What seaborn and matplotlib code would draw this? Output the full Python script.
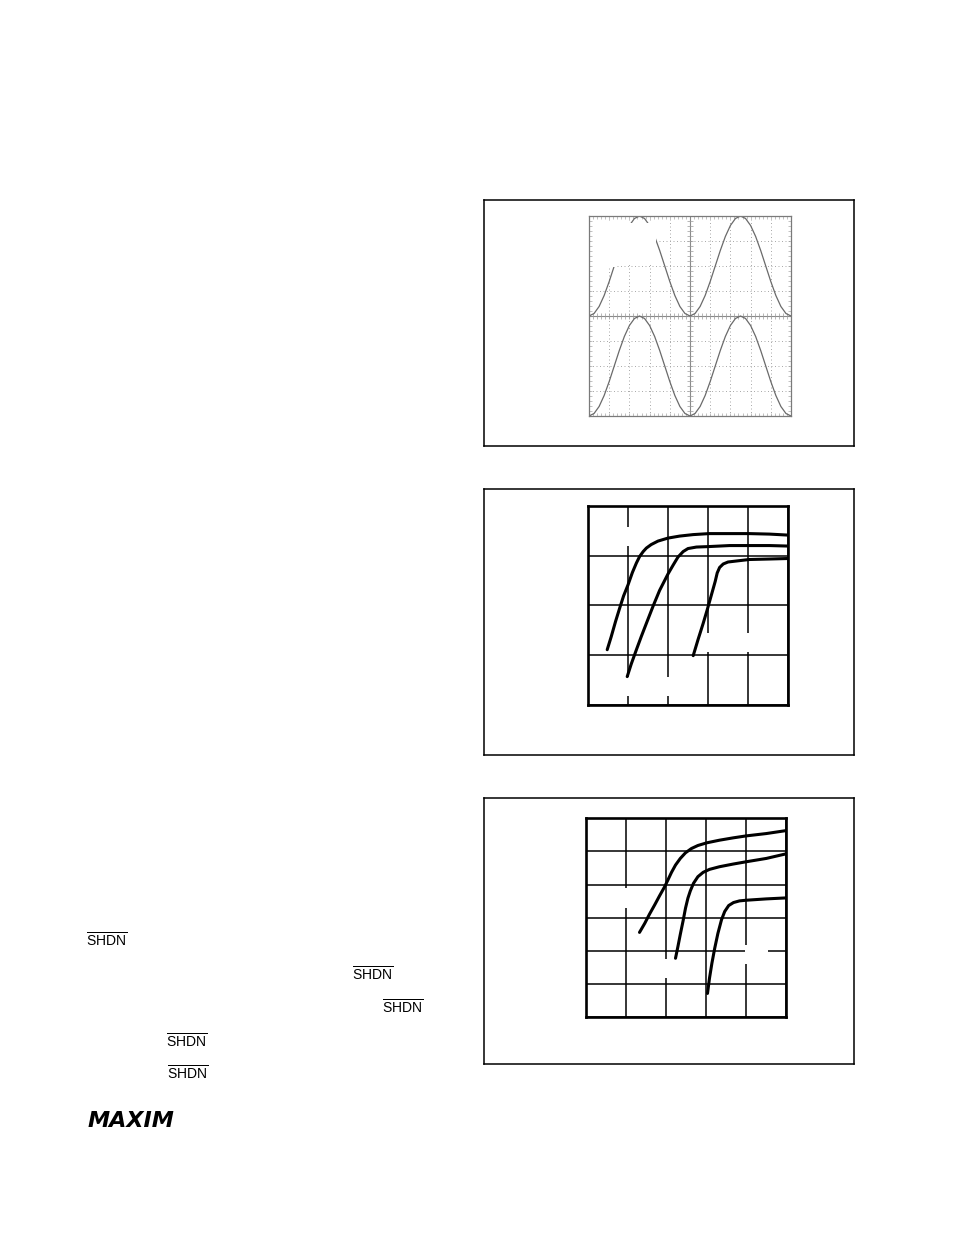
import numpy as np
import pandas as pd
import matplotlib
matplotlib.use("Agg")
import matplotlib.pyplot as plt
import seaborn as sns
from matplotlib.patches import Rectangle
from matplotlib.ticker import MultipleLocator

# --- scope trace (chart 1), divisions, sampled every 1/4 division ---
scope_t = np.arange(41) * 0.25
scope_top = [0, 0.1, 0.38, 0.82, 1.38, 2.0, 2.62, 3.18, 3.62, 3.9, 4.0,
             3.9, 3.62, 3.18, 2.62, 2.0, 1.38, 0.82, 0.38, 0.1, 0,
             0.1, 0.38, 0.82, 1.38, 2.0, 2.62, 3.18, 3.62, 3.9, 4.0,
             3.9, 3.62, 3.18, 2.62, 2.0, 1.38, 0.82, 0.38, 0.1, 0]
scope_bottom = [-4, -3.9, -3.62, -3.18, -2.62, -2.0, -1.38, -0.82, -0.38, -0.1, 0,
                -0.1, -0.38, -0.82, -1.38, -2.0, -2.62, -3.18, -3.62, -3.9, -4,
                -3.9, -3.62, -3.18, -2.62, -2.0, -1.38, -0.82, -0.38, -0.1, 0,
                -0.1, -0.38, -0.82, -1.38, -2.0, -2.62, -3.18, -3.62, -3.9, -4]

# --- chart 2 curves (grid divisions) ---
c2a_x = [0.48, 0.58, 0.69, 0.79, 0.89, 1.0, 1.11, 1.21, 1.29, 1.38, 1.46, 1.58,
         1.75, 2.0, 2.29, 2.63, 3.03, 3.54, 4.03, 4.54, 5.0]
c2a_y = [1.11, 1.37, 1.68, 1.94, 2.19, 2.41, 2.66, 2.85, 2.98, 3.08, 3.15, 3.22,
         3.29, 3.35, 3.39, 3.42, 3.44, 3.44, 3.44, 3.43, 3.41]
c2b_x = [0.98, 1.08, 1.21, 1.33, 1.46, 1.63, 1.79, 2.0, 2.13, 2.25, 2.38, 2.5,
         2.71, 3.03, 3.54, 4.03, 4.54, 5.0]
c2b_y = [0.57, 0.82, 1.11, 1.37, 1.64, 1.99, 2.3, 2.63, 2.81, 2.97, 3.08, 3.14,
         3.17, 3.18, 3.2, 3.2, 3.2, 3.19]
c2c_x = [2.63, 2.75, 2.88, 2.98, 3.04, 3.11, 3.18, 3.23, 3.29, 3.38, 3.5, 3.71,
         4.03, 4.54, 5.0]
c2c_y = [0.99, 1.31, 1.64, 1.91, 2.08, 2.28, 2.48, 2.65, 2.76, 2.83, 2.87, 2.89,
         2.92, 2.93, 2.94]

# --- chart 3 curves (grid divisions) ---
c3a_x = [1.33, 1.46, 1.58, 1.71, 1.83, 1.96, 2.04, 2.13, 2.23, 2.35, 2.48, 2.63,
         2.79, 3.01, 3.33, 3.67, 4.0, 4.5, 5.0]
c3a_y = [2.56, 2.83, 3.11, 3.39, 3.66, 3.94, 4.14, 4.37, 4.59, 4.79, 4.96, 5.09,
         5.18, 5.26, 5.34, 5.41, 5.47, 5.54, 5.63]
c3b_x = [2.23, 2.29, 2.35, 2.42, 2.48, 2.54, 2.6, 2.68, 2.79, 2.92, 3.08, 3.33,
         3.67, 4.0, 4.5, 5.0]
c3b_y = [1.78, 2.13, 2.5, 2.91, 3.29, 3.59, 3.81, 4.04, 4.24, 4.37, 4.46, 4.54,
         4.62, 4.69, 4.79, 4.93]
c3c_x = [3.03, 3.08, 3.14, 3.21, 3.29, 3.38, 3.46, 3.56, 3.68, 3.83, 4.0, 4.5, 5.0]
c3c_y = [0.72, 1.18, 1.63, 2.08, 2.53, 2.94, 3.19, 3.37, 3.46, 3.51, 3.53, 3.57, 3.6]

W, H = 954, 1235

sns.set_theme(style="white")
plt.rcParams["font.family"] = ["Liberation Sans", "DejaVu Sans"]
plt.rcParams["mathtext.fontset"] = "custom"
plt.rcParams["mathtext.rm"] = "Liberation Sans"
plt.rcParams["text.color"] = "black"

fig = plt.figure(figsize=(W / 100, H / 100), dpi=100)
fig.patch.set_facecolor("white")


def px_axes(x0, y0, x1, y1):
    return fig.add_axes([x0 / W, 1 - y1 / H, (x1 - x0) / W, (y1 - y0) / H])


def outer_box(x0, y0, x1, y1):
    ax = px_axes(x0, y0, x1, y1)
    ax.set_xticks([])
    ax.set_yticks([])
    for s in ax.spines.values():
        s.set_visible(True)
        s.set_color("black")
        s.set_linewidth(1.1)
    return ax


def grid_chart(ax, nx, ny, curves, gaps):
    ax.set_xlim(0, nx)
    ax.set_ylim(0, ny)
    ax.set_xticks(range(nx + 1))
    ax.set_yticks(range(ny + 1))
    ax.tick_params(length=0, labelbottom=False, labelleft=False)
    ax.grid(True, color="black", linewidth=1.1)
    for s in ax.spines.values():
        s.set_visible(True)
        s.set_color("black")
        s.set_linewidth(1.9)
    # white patches where the axis labels were
    for (gx0, gy0, gx1, gy1) in gaps:
        ax.add_patch(Rectangle((gx0, gy0), gx1 - gx0, gy1 - gy0,
                               facecolor="white", edgecolor="none", zorder=1))
    for cx, cy in curves:
        df = pd.DataFrame({"x": cx, "y": cy})
        sns.lineplot(data=df, x="x", y="y", ax=ax, color="black", linewidth=2.2,
                     estimator=None, sort=False, legend=False)
    ax.set_xlabel("")
    ax.set_ylabel("")


# outer frames
outer_box(484, 200, 854, 446)
outer_box(484, 489, 854, 755)
outer_box(484, 798, 854, 1064)

# chart 1: scope capture
ax1 = px_axes(589, 216, 791, 416)
ax1.set_xlim(0, 10)
ax1.set_ylim(-4, 4)
ax1.set_xticks(range(11))
ax1.set_yticks(range(-4, 5))
ax1.xaxis.set_minor_locator(MultipleLocator(0.2))
ax1.yaxis.set_minor_locator(MultipleLocator(0.2))
ax1.tick_params(which="both", direction="in", length=2.5, width=0.5, color="#a8a8a8",
                top=True, right=True, bottom=True, left=True,
                labelbottom=False, labelleft=False)
ax1.grid(True, color="#a8a8a8", linewidth=0.7, linestyle=(0, (1, 2.6)))
for s in ax1.spines.values():
    s.set_visible(True)
    s.set_color("#7a7a7a")
    s.set_linewidth(0.9)
ax1.axhline(0, color="#8a8a8a", linewidth=0.8, zorder=1)
ax1.axvline(5, color="#8a8a8a", linewidth=0.8, zorder=1)
ticks_h = np.arange(0, 10.01, 0.2)
ticks_v = np.arange(-4, 4.01, 0.2)
ax1.plot(ticks_h, np.zeros_like(ticks_h), ls="none", marker="|", ms=4.5,
         mew=0.5, color="#9a9a9a", zorder=1)
ax1.plot(np.full_like(ticks_v, 5), ticks_v, ls="none", marker="_", ms=4.5,
         mew=0.5, color="#9a9a9a", zorder=1)
scope = pd.DataFrame({"t": scope_t, "top": scope_top, "bottom": scope_bottom})
sns.lineplot(data=scope, x="t", y="top", ax=ax1, color="#6a6a6a", linewidth=0.9,
             estimator=None, legend=False)
sns.lineplot(data=scope, x="t", y="bottom", ax=ax1, color="#6a6a6a", linewidth=0.9,
             estimator=None, legend=False)
ax1.set_xlabel("")
ax1.set_ylabel("")
# blanked-out label area in the upper-left of the screen
ax1.add_patch(Rectangle((0.2, 1.95), 1.15, 1.77, facecolor="white",
                        edgecolor="none", zorder=3))
ax1.add_patch(Rectangle((1.35, 2.05), 1.95, 1.67, facecolor="white",
                        edgecolor="none", zorder=3))

# chart 2
ax2 = px_axes(588, 505.7, 788, 705)
grid_chart(ax2, 5, 4,
           [(c2a_x, c2a_y), (c2b_x, c2b_y), (c2c_x, c2c_y)],
           [(0.9, 3.2, 1.1, 3.58), (0.9, 0.18, 1.1, 0.56), (1.9, 0.18, 2.1, 0.56),
            (2.9, 1.07, 3.1, 1.45), (3.9, 1.07, 4.1, 1.45)])

# chart 3
ax3 = px_axes(586.3, 818.3, 786.3, 1017.3)
grid_chart(ax3, 5, 6,
           [(c3a_x, c3a_y), (c3b_x, c3b_y), (c3c_x, c3c_y)],
           [(0.9, 3.29, 1.1, 3.91), (1.9, 1.2, 2.1, 1.76), (3.97, 1.6, 4.54, 2.18)])

# body text fragments
shdn = r"$\overline{\mathrm{SHDN}}$"
for x, y in [(86, 946.7), (351.7, 980.7), (381.7, 1014), (166, 1047.3), (166.7, 1080)]:
    fig.text(x / W, 1 - y / H, shdn, fontsize=10, color="black",
             ha="left", va="baseline")

fig.text(88 / W, 1 - 1126.7 / H, "MAXIM", family=["DejaVu Sans"], fontsize=16,
         fontweight="bold", fontstyle="italic", color="black",
         ha="left", va="baseline")

fig.savefig("out.png", dpi=100)
